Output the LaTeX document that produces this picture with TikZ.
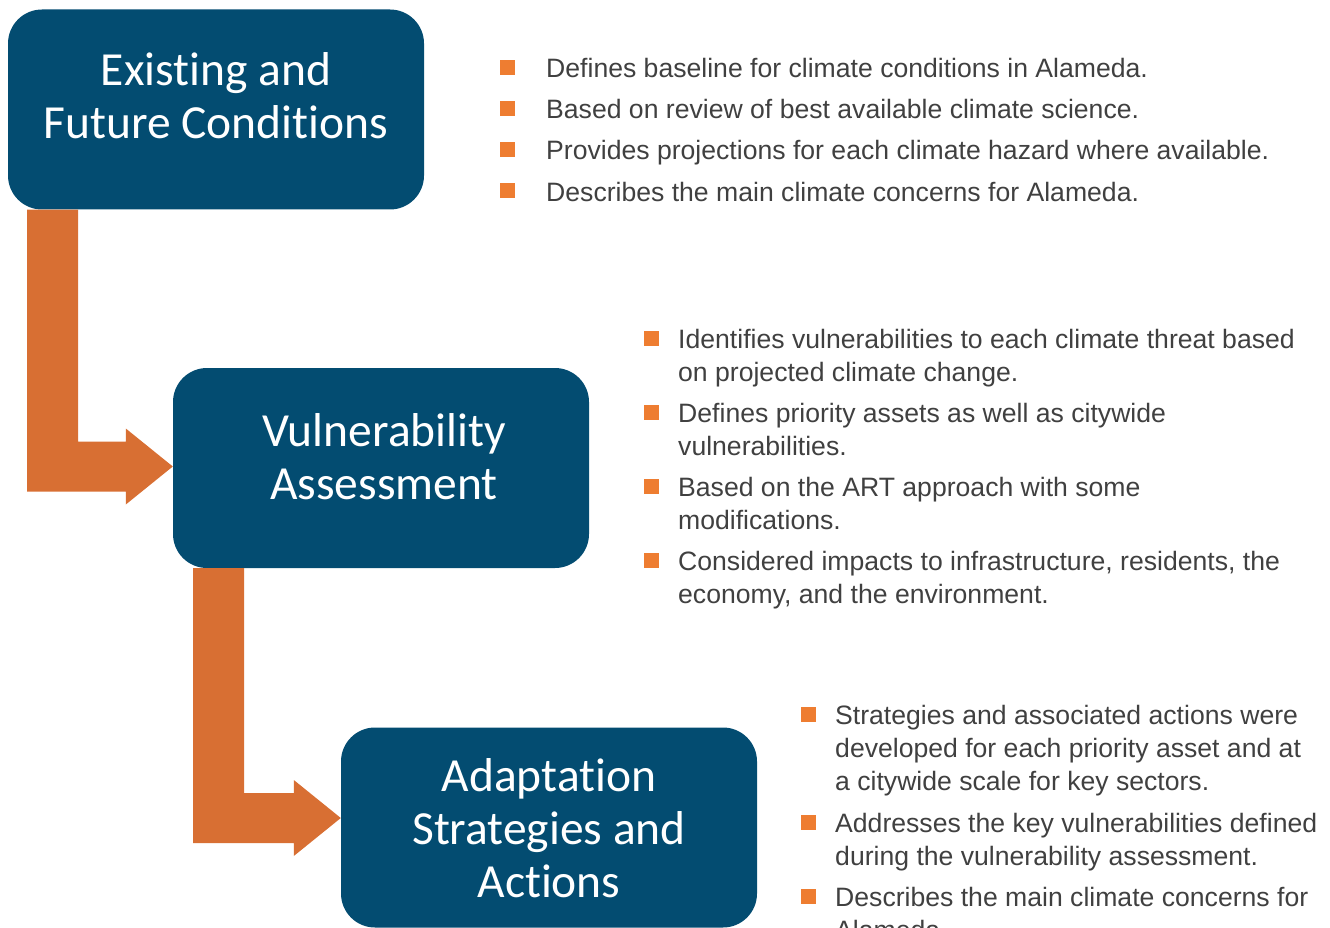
\documentclass[tikz,border=0pt]{standalone}
\usepackage{fontspec}
\setmainfont{Liberation Sans}
\newfontfamily\boxfont[Ligatures=NoCommon]{Carlito}
\usetikzlibrary{calc}
\definecolor{boxblue}{HTML}{034C71}
\definecolor{arrorange}{HTML}{D86F33}
\definecolor{bulorange}{HTML}{EE7D31}
\definecolor{txtgray}{HTML}{404040}
\tikzset{stagebox/.style={fill=boxblue, rounded corners=34pt, minimum width=416pt, minimum height=200pt, inner sep=0pt},
stagetext/.style={text=white, font=\boxfont\fontsize{47.5}{53}\selectfont, align=center, anchor=base, inner sep=0pt},
sqbul/.style={fill=bulorange, minimum size=15pt, inner sep=0pt},
item/.style={text=txtgray, font=\fontsize{26.6}{33}\selectfont, align=left, anchor=base west, inner sep=0pt}}
% from node, to node, bar left x, tip y
\newcommand{\elbow}[4]{\fill[arrorange] (#1.south -| #3,0) -- ++(51,0) |- ($(#2.west |- 0,#4)+(-47,-25)$) -- ++(0,-13) -- (#2.west |- 0,#4) -- ++(-47,38) -- ++(0,-13) -- ($(#3,#4)+(0,25)$) -- cycle;}
% name, bullet x, text x, first baseline, last baseline, text
\newcommand{\bitem}[6]{\node[sqbul] (#1-sq) at ([yshift=10]#2,#4) {}; \node[item] (#1) at (#3,#5) {#6};}

\begin{document}
\begin{tikzpicture}[x=1pt, y=-1pt]
\useasboundingbox (0,0) rectangle (1330,928);
\node[stagebox] (fc) at (216,109.5) {};
\node[stagebox] (va) at (381,468) {};
\node[stagebox] (as) at (549,827.5) {};
\node[stagetext] (fct) at (216,139) {Existing and\\Future Conditions};
\node[stagetext] (vat) at (384,499) {Vulnerability\\Assessment};
\node[stagetext] (ast) at (549,897) {Adaptation\\Strategies and\\Actions};
\elbow{fc}{va}{27}{466.5}
\elbow{va}{as}{193}{818}
\bitem{a1}{507}{546}{78}{78}{Defines baseline for climate conditions in Alameda.}
\bitem{a2}{507}{546}{119}{119}{Based on review of best available climate science.}
\bitem{a3}{507}{546}{160}{160}{Provides projections for each climate hazard where available.}
\bitem{a4}{507}{546}{201}{201}{Describes the main climate concerns for Alameda.}
\bitem{b1}{651.5}{678}{348}{381}{Identifies vulnerabilities to each climate threat based\\on projected climate change.}
\bitem{b2}{651.5}{678}{422}{455}{Defines priority assets as well as citywide\\vulnerabilities.}
\bitem{b3}{651.5}{678}{496}{529}{Based on the ART approach with some\\modifications.}
\bitem{b4}{651.5}{678}{570}{603}{Considered impacts to infrastructure, residents, the\\economy, and the environment.}
\bitem{c1}{808.5}{835}{724}{790}{Strategies and associated actions were\\developed for each priority asset and at\\a citywide scale for key sectors.}
\bitem{c2}{808.5}{835}{832}{865}{Addresses the key vulnerabilities defined\\during the vulnerability assessment.}
\bitem{c3}{808.5}{835}{906}{939}{Describes the main climate concerns for\\Alameda.}
\end{tikzpicture}
\end{document}
